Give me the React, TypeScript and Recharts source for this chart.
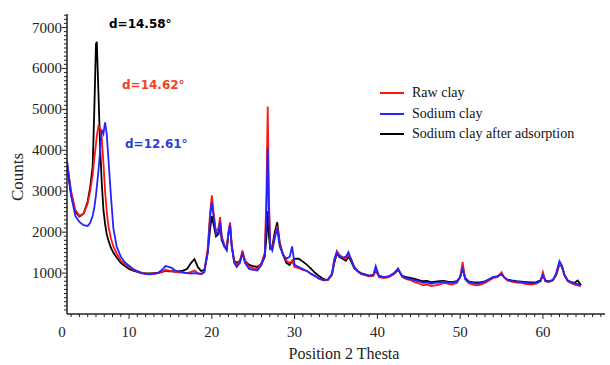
import { LineChart, Line, XAxis, YAxis, Label } from "recharts";

// 2-theta grid (degrees)
const twoTheta = [
  2.5, 3.0, 3.5, 4.0, 4.5, 5.0, 5.3, 5.6, 5.8, 6.0,
  6.1, 6.3, 6.5, 6.7, 6.9, 7.1, 7.3, 7.5, 7.8, 8.1,
  8.5, 9.0, 9.5, 10.0, 10.5, 11, 11.5, 12, 12.5, 13,
  13.5, 14, 14.4, 14.8, 15.2, 15.6, 16, 16.5, 17, 17.5,
  17.9, 18.3, 18.7, 19.1, 19.5, 19.8, 20.0, 20.2, 20.5, 20.8,
  21.0, 21.2, 21.5, 21.8, 22.0, 22.2, 22.4, 22.7, 23.0, 23.4,
  23.7, 24.0, 24.5, 25.0, 25.5, 26.0, 26.4, 26.6, 26.75, 26.9,
  27.05, 27.3, 27.6, 27.9, 28.2, 28.6, 29.0, 29.4, 29.7, 30.0,
  30.5, 31.0, 31.5, 32.0, 32.5, 33.0, 33.5, 34.0, 34.5, 34.8,
  35.1, 35.4, 35.8, 36.2, 36.5, 36.8, 37.2, 37.6, 38.0, 38.5,
  39.0, 39.5, 39.8, 40.2, 40.8, 41.4, 42.0, 42.5, 43.0, 43.5,
  44.0, 44.5, 45.0, 45.5, 46.0, 46.5, 47.0, 47.5, 48.0, 48.5,
  49.0, 49.6, 50.0, 50.3, 50.6, 51.0, 51.5, 52.0, 52.5, 53.0,
  53.5, 54.0, 54.5, 55.0, 55.3, 55.7, 56.2, 56.8, 57.4, 58.0,
  58.6, 59.2, 59.7, 60.0, 60.3, 60.7, 61.2, 61.6, 62.0, 62.3,
  62.6, 63.0, 63.4, 63.8, 64.2, 64.6,
];

const rawClay = [
  3700, 3000, 2550, 2400, 2450, 2700, 3000, 3400, 3800, 4150,
  4350, 4590, 4550, 4300, 3700, 3000, 2500, 2150, 1850, 1650,
  1480, 1300, 1220, 1150, 1080, 1040, 1010, 990, 980, 990,
  1000, 1020, 1080, 1060, 1040, 1030, 1020, 1010, 1000, 1030,
  1060, 1000, 980, 1050, 1600, 2500, 2900, 2500, 2000, 2100,
  2370, 1900, 1700, 1600, 2000, 2240, 1700, 1300, 1200, 1300,
  1550, 1300, 1150, 1120, 1100, 1250, 1500, 3000, 5070, 2800,
  1700, 1600, 1900, 2150, 1700, 1450, 1300, 1250, 1300, 1150,
  1120, 1080, 1050, 980, 920, 860, 820, 830, 950, 1300,
  1540, 1450, 1380, 1350, 1450, 1350, 1150, 1050, 980, 950,
  920, 930, 1100, 900, 880, 900, 980, 1120, 900, 850,
  830, 780, 750, 700, 720, 680, 700, 720, 760, 740,
  720, 760, 900, 1270, 850, 760, 720, 700, 720, 760,
  820, 880, 900, 1020, 900, 820, 790, 770, 760, 730,
  720, 740, 800, 1020, 800, 780, 820, 950, 1250, 1150,
  950, 800, 760, 720, 700, 680,
];

const sodiumClay = [
  3750, 2900, 2400, 2250, 2170, 2150, 2230, 2400, 2600, 2900,
  3100, 3500, 4000, 4500, 4400, 4680, 4400, 3800, 2900, 2100,
  1650, 1400, 1260, 1180, 1100, 1050, 1000, 980, 970, 980,
  1000, 1080, 1170, 1150, 1120, 1060, 1040, 1020, 1000, 990,
  1000, 990, 970, 1020, 1500, 2400, 2730, 2400, 1950, 2000,
  2250, 1850, 1650, 1550, 1950, 2180, 1650, 1250, 1150, 1250,
  1500, 1250, 1100, 1080, 1060, 1200, 1450, 2500, 4070, 2500,
  1650, 1550, 1850, 2100, 1650, 1450, 1350, 1400, 1650, 1200,
  1150, 1100, 1050, 980, 920, 860, 830, 840, 980, 1350,
  1500, 1400, 1380, 1400, 1510, 1350, 1150, 1050, 990, 960,
  930, 950, 1170, 920, 900, 920, 1000, 1100, 920, 870,
  850, 820, 800, 760, 770, 740, 760, 770, 790, 770,
  760, 790, 900, 1100, 860, 790, 760, 740, 760, 790,
  850, 900, 920, 970, 900, 840, 810, 790, 780, 760,
  750, 760, 800, 950, 800, 790, 830, 1000, 1290, 1180,
  960, 820, 780, 750, 730, 700,
];

const afterAdsorption = [
  3600, 2900, 2500, 2380, 2450, 2750, 3100, 3600, 5000, 6600,
  6650, 5400, 4100, 3200, 2550, 2200, 1950, 1800, 1620, 1500,
  1380, 1250, 1170, 1100, 1060, 1030, 1000, 990, 990, 1000,
  1010, 1030, 1060, 1040, 1050, 1030, 1040, 1060, 1100, 1250,
  1340, 1150, 1050, 1080, 1500, 2100, 2390, 2200, 1900, 1950,
  2150, 1800, 1650, 1600, 1950, 2180, 1650, 1300, 1250, 1300,
  1480, 1300, 1200, 1170, 1150, 1230, 1400, 1900, 2510, 1900,
  1600, 1650, 2000, 2240, 1750, 1450, 1250, 1200, 1300, 1350,
  1350, 1280, 1200, 1100, 1000, 920, 850, 830, 950, 1250,
  1480, 1400, 1350, 1300, 1400, 1300, 1120, 1050, 1000, 970,
  940, 950, 1050, 930, 900, 920, 980, 1080, 930, 900,
  880, 860, 830, 800, 810, 780, 790, 800, 810, 790,
  780, 800, 900, 1150, 880, 800, 780, 770, 780, 800,
  850, 900, 920, 980, 900, 840, 820, 800, 790, 780,
  770, 780, 820, 960, 820, 800, 830, 950, 1220, 1150,
  950, 820, 780, 760, 820, 700,
];

const seriesNames = ["Raw clay", "Sodium clay", "Sodium clay after adsorption"];
const seriesColors = ["#ff1414", "#2424ff", "#000000"];

const yMajorTicks = [1000, 2000, 3000, 4000, 5000, 6000, 7000];
const yMinorStep = 100;
const xMajorTicks = [10, 20, 30, 40, 50, 60];
const xOriginLabel = "0";

const X_MIN = 2.5;
const X_MAX = 67.5;
const Y_MAX = 7330;

const yTicks = Array.from({ length: Math.floor(Y_MAX / yMinorStep) }, (_, i) => (i + 1) * yMinorStep);
const xTicks = [X_MIN, ...Array.from({ length: 65 }, (_, i) => i + 3)];

const data = twoTheta.map((t, i) => ({
  t,
  raw: rawClay[i],
  sodium: sodiumClay[i],
  after: afterAdsorption[i],
}));

const serif = "'Liberation Serif', 'Times New Roman', serif";

const YTick = (props: any) => {
  const { x, y, payload } = props;
  const major = yMajorTicks.includes(payload.value);
  return (
    <g>
      <line x1={x - (major ? 5 : 3)} x2={x} y1={y} y2={y} stroke="#222" strokeWidth={1} />
      {major && (
        <text x={x - 5} y={y} textAnchor="end" dominantBaseline="central" fontFamily={serif} fontSize={15} fill="#222">
          {payload.value}
        </text>
      )}
    </g>
  );
};

const XTick = (props: any) => {
  const { x, y, payload } = props;
  const v = payload.value;
  const major = xMajorTicks.includes(v);
  if (v === X_MIN) {
    return (
      <text x={x - 5} y={y + 18} textAnchor="middle" dominantBaseline="central" fontFamily={serif} fontSize={15} fill="#222">
        {xOriginLabel}
      </text>
    );
  }
  return (
    <g>
      <line x1={x} x2={x} y1={y} y2={y + (major ? 5 : 3)} stroke="#222" strokeWidth={1} />
      {major && (
        <text x={x} y={y + 18} textAnchor="middle" dominantBaseline="central" fontFamily={serif} fontSize={15} fill="#222">
          {v}
        </text>
      )}
    </g>
  );
};

const annotations = [
  { text: "d=14.58°", color: "#000000", left: 109, top: 18 },
  { text: "d=14.62°", color: "#f5411e", left: 122, top: 79 },
  { text: "d=12.61°", color: "#2b3fd6", left: 125, top: 138 },
];

export default function App() {
  return (
    <div style={{ position: "absolute", left: 0, top: 0, width: 610, height: 365, background: "#fff" }}>
      <LineChart width={610} height={365} data={data} margin={{ top: 14, right: 5, left: 0, bottom: 0 }}>
        <XAxis
          dataKey="t"
          type="number"
          domain={[X_MIN, X_MAX]}
          ticks={xTicks}
          interval={0}
          tick={<XTick />}
          tickLine={false}
          tickSize={0}
          tickMargin={0}
          height={51}
          axisLine={{ stroke: "#222", strokeWidth: 1.5 }}
          allowDataOverflow
        >
          <Label
            content={() => (
              <text x={344} y={359} textAnchor="middle" fontFamily={serif} fontSize={16} fill="#222">
                Position 2 Thesta
              </text>
            )}
          />
        </XAxis>
        <YAxis
          type="number"
          domain={[0, Y_MAX]}
          ticks={yTicks}
          interval={0}
          tick={<YTick />}
          tickLine={false}
          tickSize={0}
          tickMargin={0}
          width={67}
          axisLine={{ stroke: "#222", strokeWidth: 1.5 }}
          allowDataOverflow
        >
          <Label
            content={() => (
              <text x={23} y={177} transform="rotate(-90 23 177)" textAnchor="middle" fontFamily={serif} fontSize={17} fill="#222">
                Counts
              </text>
            )}
          />
        </YAxis>
        <Line dataKey="after" name={seriesNames[2]} stroke={seriesColors[2]} strokeWidth={1.8} dot={false} type="linear" isAnimationActive={false} />
        <Line dataKey="raw" name={seriesNames[0]} stroke={seriesColors[0]} strokeWidth={1.8} dot={false} type="linear" isAnimationActive={false} />
        <Line dataKey="sodium" name={seriesNames[1]} stroke={seriesColors[1]} strokeWidth={1.8} dot={false} type="linear" isAnimationActive={false} />
      </LineChart>
      <div style={{ position: "absolute", left: 380, top: 83, fontFamily: serif, fontSize: 14, color: "#111" }}>
        {seriesNames.map((name, i) => (
          <div key={name} style={{ display: "flex", alignItems: "center", height: 20.5 }}>
            <span style={{ display: "inline-block", width: 24, height: 2, background: seriesColors[i], marginRight: 8 }} />
            <span>{name}</span>
          </div>
        ))}
      </div>
      {annotations.map((a) => (
        <div
          key={a.text}
          style={{
            position: "absolute",
            left: a.left,
            top: a.top,
            color: a.color,
            fontFamily: "'DejaVu Sans', sans-serif",
            fontWeight: "bold",
            fontSize: 12,
            lineHeight: "12px",
            whiteSpace: "nowrap",
          }}
        >
          {a.text}
        </div>
      ))}
    </div>
  );
}
